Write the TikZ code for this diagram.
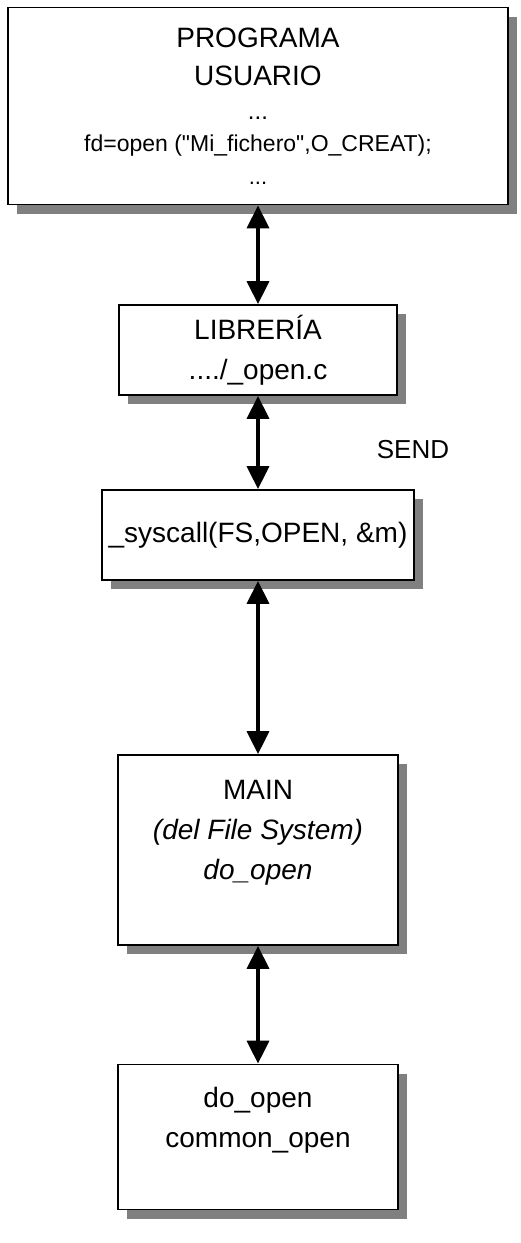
\documentclass[tikz,border=0pt]{standalone}
\usepackage{fontspec}
\setmainfont{Liberation Sans}
\usetikzlibrary{arrows.meta,shadows}

\begin{document}
\begin{tikzpicture}[x=1pt, y=-1pt,
    box/.style={draw, line width=1.8pt, fill=white, align=center, inner sep=0pt,
      font=\fontsize{28}{40}\selectfont,
      drop shadow={shadow xshift=9pt, shadow yshift=-9pt, fill=black!50, opacity=1}},
    link/.style={{Triangle[width=22pt,length=23pt]}-{Triangle[width=22pt,length=23pt]}, line width=3.5pt}]
    \useasboundingbox (0,0) rectangle (520,1243);

    \node[box, minimum width=500pt, minimum height=197pt] (prog) at (258,106)
      {PROGRAMA\\[-2pt]USUARIO\\[-6pt]{\fontsize{24}{24}\selectfont ...}\\[-8pt]%
       {\fontsize{23}{23}\selectfont fd=open (\textquotedbl Mi\_fichero\textquotedbl,O\_CREAT);}\\[-7pt]{\fontsize{22}{22}\selectfont ...}};
    \node[box, minimum width=278pt, minimum height=90pt] (lib) at (258,350) {LIBRERÍA\\..../\_open.c};
    \node[box, minimum width=312pt, minimum height=90pt] (sys) at (258,535) {\_syscall(FS,OPEN, \&m)};
    \node[box, minimum width=280pt, minimum height=190pt] (fs) at (258,850)
      {MAIN\\\textit{(del File System)}\\\textit{do\_open}\\\mbox{}};
    \node[box, minimum width=280pt, minimum height=145pt] (comm) at (258,1137) {do\_open\\common\_open\\\mbox{}};

    \node[font=\fontsize{26}{26}\selectfont] (send) at (413,450) {SEND};

    \draw[link] (prog) -- (lib);
    \draw[link] (lib) -- (sys);
    \draw[link] (sys) -- (fs);
    \draw[link] (fs) -- (comm);
\end{tikzpicture}
\end{document}
